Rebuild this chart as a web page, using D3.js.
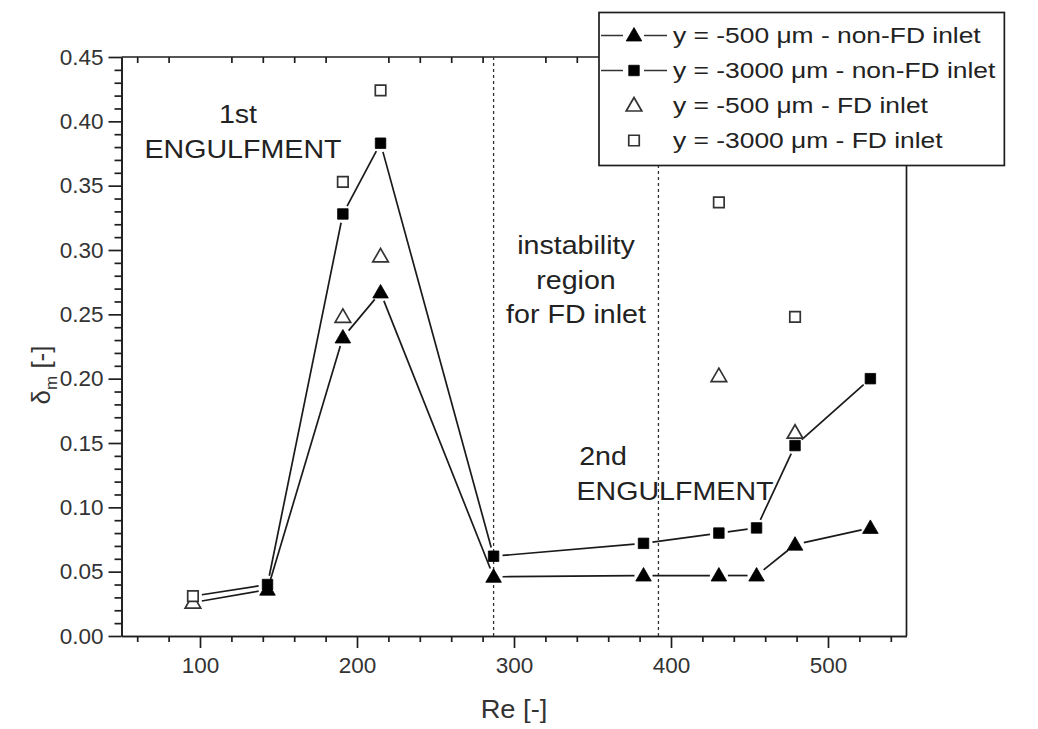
<!DOCTYPE html>
<html>
<head>
<meta charset="utf-8">
<script src="https://cdn.jsdelivr.net/npm/d3@7"></script>
<style>
  body { margin: 0; background: #fff; }
  svg { display: block; font-family: 'Liberation Sans', Arial, sans-serif; }
</style>
</head>
<body>
<svg id="chart"></svg>
<script>
// ---- data ----
const reNonFD = [95.5, 143, 191, 215, 287, 382.5, 430.5, 454.5, 479, 527]
const dm500NonFD = [0.026, 0.036, 0.232, 0.267, 0.046, 0.047, 0.047, 0.047, 0.071, 0.084]
const dm3000NonFD = [0.031, 0.040, 0.328, 0.383, 0.062, 0.072, 0.080, 0.084, 0.148, 0.200]
const reFD = [95.5, 191, 215, 430.5, 479]
const dm500FD = [0.026, 0.248, 0.295, 0.202, 0.158]
const dm3000FD = [0.031, 0.353, 0.424, 0.337, 0.248]
const regionBounds = [287, 392]
const xTicks = [100, 200, 300, 400, 500]
const yTicks = [0, 0.05, 0.1, 0.15, 0.2, 0.25, 0.3, 0.35, 0.4, 0.45]
const legendLabels = [
  'y = -500 \u03bcm - non-FD inlet',
  'y = -3000 \u03bcm - non-FD inlet',
  'y = -500 \u03bcm - FD inlet',
  'y = -3000 \u03bcm - FD inlet'
]

const width = 1038
const height = 729
const margin = { top: 57, left: 121.5, right: 131.5, bottom: 93 }
const ink = '#1e1e1e'

const svg = d3.select('#chart').attr('width', width).attr('height', height)

const x = d3.scaleLinear().domain([50, 550]).range([margin.left, width - margin.right])
const y = d3.scaleLinear().domain([0, 0.45]).range([height - margin.bottom, margin.top])

// markers
const triPath = d3.symbol().type(d3.symbolTriangle).size(105)()
const sqPath = d3.symbol().type(d3.symbolSquare).size(110)()

//////////////////////////////// AXES ////////////////////////////////
const xAxis = svg.append('g')
  .attr('transform', `translate(0,${y(0)})`)
  .call(d3.axisBottom(x).tickValues(xTicks).tickSize(12).tickPadding(9).tickSizeOuter(0))
xAxis.selectAll('text').attr('font-size', 22.5).attr('fill', '#333').attr('font-family', 'inherit')

// minor x ticks (bottom, outward)
svg.append('g')
  .attr('transform', `translate(0,${y(0)})`)
  .call(d3.axisBottom(x).tickValues(d3.range(60, 550, 20).filter(v => v % 100 !== 0)).tickSize(6).tickFormat('').tickSizeOuter(0))

// minor x ticks on top (inward)
svg.append('g')
  .attr('transform', `translate(0,${y(0.45)})`)
  .call(d3.axisBottom(x).tickValues(d3.range(60, 550, 20).filter(v => v % 100 !== 0)).tickSize(6).tickFormat('').tickSizeOuter(0))
  .select('.domain').remove()

const yAxis = svg.append('g')
  .attr('transform', `translate(${x(50)},0)`)
  .call(d3.axisLeft(y).tickValues(yTicks).tickFormat(d3.format('.2f')).tickSize(13).tickPadding(5).tickSizeOuter(0))
yAxis.selectAll('text').attr('font-size', 22.5).attr('fill', '#333').attr('font-family', 'inherit')

svg.append('g')
  .attr('transform', `translate(${x(50)},0)`)
  .call(d3.axisLeft(y).tickValues(d3.range(1, 45).filter(i => i % 5 !== 0).map(i => i / 100)).tickSize(7).tickFormat('').tickSizeOuter(0))

svg.selectAll('.domain, .tick line').attr('stroke', ink).attr('stroke-width', 1.7)

// frame: top and right
svg.append('line').attr('x1', x(50)).attr('x2', x(550)).attr('y1', y(0.45)).attr('y2', y(0.45))
  .attr('stroke', ink).attr('stroke-width', 1.7)
svg.append('line').attr('x1', x(550)).attr('x2', x(550)).attr('y1', y(0.45)).attr('y2', y(0))
  .attr('stroke', ink).attr('stroke-width', 1.7)

// axis titles
svg.append('text')
  .attr('transform', `translate(${(x(50) + x(550)) / 2},718) scale(1.05,1)`)
  .attr('text-anchor', 'middle').attr('font-size', 26).attr('fill', '#333')
  .text('Re [-]')

const yTitle = svg.append('text')
  .attr('transform', `translate(50,375) rotate(-90)`)
  .attr('text-anchor', 'middle').attr('font-size', 26).attr('fill', '#333')
yTitle.append('tspan').text('\u03b4')
yTitle.append('tspan').attr('font-size', 17).attr('dy', 7).text('m')
yTitle.append('tspan').attr('dy', -7).text(' [-]')

//////////////////////////////// REGION LINES ////////////////////////////////
svg.append('g').selectAll('line')
  .data(regionBounds)
  .join('line')
  .attr('x1', d => x(d)).attr('x2', d => x(d))
  .attr('y1', y(0)).attr('y2', y(0.45))
  .attr('stroke', '#333').attr('stroke-width', 1.3).attr('stroke-dasharray', '3,3')

//////////////////////////////// ANNOTATIONS ////////////////////////////////
const note = (tx, ty, t) => svg.append('text')
  .attr('transform', `translate(${tx},${ty}) scale(1.1,1)`)
  .attr('text-anchor', 'middle')
  .attr('font-size', 26).attr('fill', '#222').text(t)

note(238, 123, '1st')
note(243, 158, 'ENGULFMENT')
const midRegion = x((regionBounds[0] + regionBounds[1]) / 2)
note(midRegion, 254, 'instability')
note(midRegion, 289, 'region')
note(midRegion, 323, 'for FD inlet')
note(603, 465, '2nd')
note(675, 500, 'ENGULFMENT')

//////////////////////////////// LINES (gapped at markers) ////////////////////////////////
function gappedLine(xs, ys, gap) {
  const pts = xs.map((v, i) => [x(v), y(ys[i])])
  const g = svg.append('g')
  d3.pairs(pts).forEach(([a, b]) => {
    const dx = b[0] - a[0], dy = b[1] - a[1]
    const len = Math.hypot(dx, dy)
    if (len <= gap * 2) return
    const ux = dx / len, uy = dy / len
    g.append('line')
      .attr('x1', a[0] + ux * gap).attr('y1', a[1] + uy * gap)
      .attr('x2', b[0] - ux * gap).attr('y2', b[1] - uy * gap)
      .attr('stroke', '#1a1a1a').attr('stroke-width', 1.7)
  })
}
gappedLine(reNonFD, dm500NonFD, 9)
gappedLine(reNonFD, dm3000NonFD, 9)

//////////////////////////////// MARKERS ////////////////////////////////
function markers(xs, ys, shape, filled, dy) {
  svg.append('g').selectAll('path')
    .data(xs.map((v, i) => [v, ys[i]]))
    .join('path')
    .attr('d', shape)
    .attr('transform', d => `translate(${x(d[0])},${y(d[1]) + dy})`)
    .attr('fill', filled ? '#000' : '#fff')
    .attr('stroke', filled ? '#000' : '#333')
    .attr('stroke-width', filled ? 0.8 : 1.7)
}
markers(reNonFD, dm500NonFD, triPath, true, 1)
markers(reNonFD, dm3000NonFD, sqPath, true, 0)
markers(reFD, dm500FD, triPath, false, 1)
markers(reFD, dm3000FD, sqPath, false, 0)

//////////////////////////////// LEGEND ////////////////////////////////
const legend = svg.append('g').attr('transform', 'translate(599,12.5)')
const box = legend.append('rect')
  .attr('height', 153).attr('fill', '#fff').attr('stroke', ink).attr('stroke-width', 1.7)

const rows = legend.selectAll('g.row')
  .data(legendLabels)
  .join('g')
  .attr('class', 'row')
  .attr('transform', (d, i) => `translate(0,${23 + i * 35})`)

rows.filter((d, i) => i < 2).each(function() {
  const r = d3.select(this)
  r.append('line').attr('x1', 2).attr('x2', 24).attr('stroke', '#333').attr('stroke-width', 1.5)
  r.append('line').attr('x1', 45).attr('x2', 68).attr('stroke', '#333').attr('stroke-width', 1.5)
})
rows.append('path')
  .attr('d', (d, i) => (i % 2 === 0 ? triPath : sqPath))
  .attr('transform', (d, i) => `translate(35,${i % 2 === 0 ? 1 : 0})`)
  .attr('fill', (d, i) => (i < 2 ? '#000' : '#fff'))
  .attr('stroke', (d, i) => (i < 2 ? '#000' : '#333'))
  .attr('stroke-width', (d, i) => (i < 2 ? 0.8 : 1.7))
const legendScale = 1.2
rows.append('text')
  .attr('transform', `translate(74,0) scale(${legendScale},1)`)
  .attr('dy', '0.35em')
  .attr('font-size', 22).attr('fill', '#222')
  .text(d => d)

const maxText = d3.max(rows.selectAll('text').nodes(), n => n.getComputedTextLength())
box.attr('width', 74 + maxText * legendScale + 9)
</script>
</body>
</html>
